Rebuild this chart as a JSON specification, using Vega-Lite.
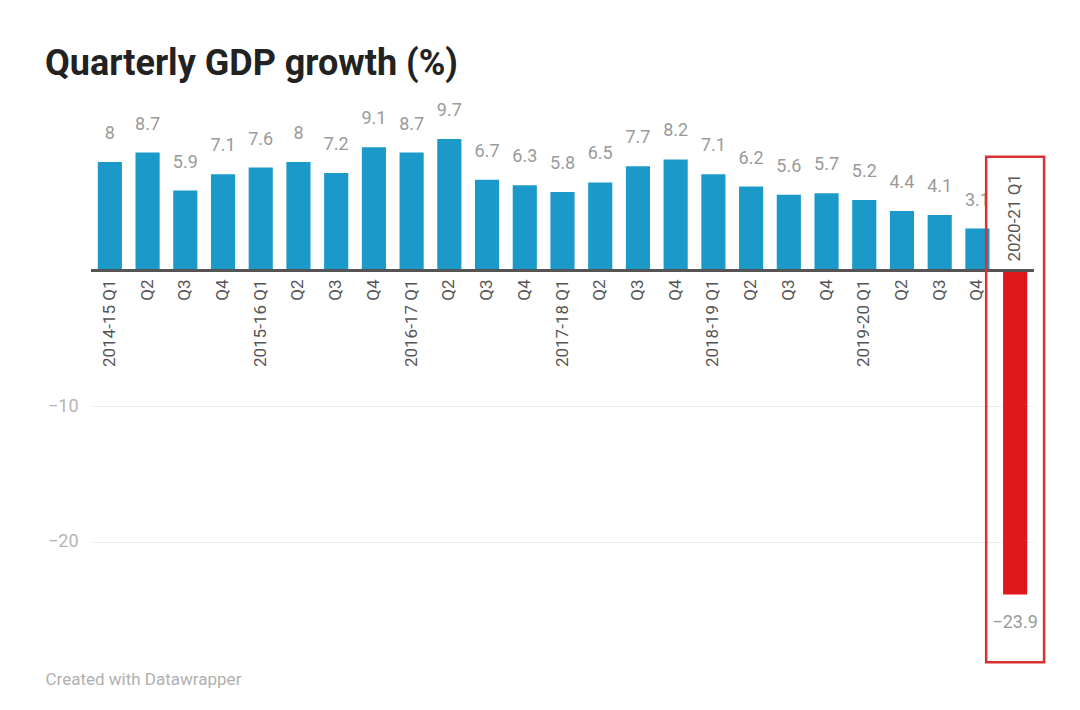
{
  "$schema": "https://vega.github.io/schema/vega-lite/v6.json",
  "width": 943,
  "height": 488,
  "autosize": {"type": "none"},
  "padding": {"left": 91, "top": 135, "right": 46, "bottom": 87},
  "background": "#ffffff",
  "title": {
    "text": "Quarterly GDP growth (%)",
    "anchor": "start",
    "frame": "group",
    "font": "Roboto",
    "fontSize": 36,
    "fontWeight": "bold",
    "color": "#222222",
    "dx": -46,
    "offset": 19
  },
  "config": {"view": {"stroke": null}, "font": "Roboto"},
  "data": {
    "values": [
      {"quarter": "2014-15 Q1", "label": "2014-15 Q1", "value": 8},
      {"quarter": "2014-15 Q2", "label": "Q2", "value": 8.7},
      {"quarter": "2014-15 Q3", "label": "Q3", "value": 5.9},
      {"quarter": "2014-15 Q4", "label": "Q4", "value": 7.1},
      {"quarter": "2015-16 Q1", "label": "2015-16 Q1", "value": 7.6},
      {"quarter": "2015-16 Q2", "label": "Q2", "value": 8},
      {"quarter": "2015-16 Q3", "label": "Q3", "value": 7.2},
      {"quarter": "2015-16 Q4", "label": "Q4", "value": 9.1},
      {"quarter": "2016-17 Q1", "label": "2016-17 Q1", "value": 8.7},
      {"quarter": "2016-17 Q2", "label": "Q2", "value": 9.7},
      {"quarter": "2016-17 Q3", "label": "Q3", "value": 6.7},
      {"quarter": "2016-17 Q4", "label": "Q4", "value": 6.3},
      {"quarter": "2017-18 Q1", "label": "2017-18 Q1", "value": 5.8},
      {"quarter": "2017-18 Q2", "label": "Q2", "value": 6.5},
      {"quarter": "2017-18 Q3", "label": "Q3", "value": 7.7},
      {"quarter": "2017-18 Q4", "label": "Q4", "value": 8.2},
      {"quarter": "2018-19 Q1", "label": "2018-19 Q1", "value": 7.1},
      {"quarter": "2018-19 Q2", "label": "Q2", "value": 6.2},
      {"quarter": "2018-19 Q3", "label": "Q3", "value": 5.6},
      {"quarter": "2018-19 Q4", "label": "Q4", "value": 5.7},
      {"quarter": "2019-20 Q1", "label": "2019-20 Q1", "value": 5.2},
      {"quarter": "2019-20 Q2", "label": "Q2", "value": 4.4},
      {"quarter": "2019-20 Q3", "label": "Q3", "value": 4.1},
      {"quarter": "2019-20 Q4", "label": "Q4", "value": 3.1},
      {"quarter": "2020-21 Q1", "label": "2020-21 Q1", "value": -23.9}
    ]
  },
  "encoding": {
    "x": {
      "field": "quarter",
      "type": "nominal",
      "sort": null,
      "scale": {"paddingInner": 0.36, "paddingOuter": 0.18},
      "axis": {
        "labels": false,
        "ticks": false,
        "domain": false,
        "title": "Created with Datawrapper",
        "titleAnchor": "start",
        "titleAlign": "left",
        "titleX": -46,
        "titleY": 48,
        "titleFont": "Roboto",
        "titleFontSize": 17,
        "titleFontWeight": "normal",
        "titleColor": "#b0b0b0"
      }
    }
  },
  "layer": [
    {
      "mark": {"type": "bar"},
      "encoding": {
        "y": {
          "field": "value",
          "type": "quantitative",
          "scale": {"domain": [-26, 10], "nice": false, "zero": false},
          "axis": {
            "values": [-10, -20],
            "title": null,
            "domain": false,
            "ticks": false,
            "grid": true,
            "gridColor": "#ececec",
            "gridWidth": 1,
            "labelColor": "#b5b5b5",
            "labelFont": "Roboto",
            "labelFontSize": 18,
            "labelPadding": 13
          }
        },
        "color": {
          "condition": {"test": "datum.value < 0", "value": "#df181c"},
          "value": "#1b9ac9"
        }
      }
    },
    {
      "mark": {"type": "rule", "color": "#555555", "strokeWidth": 1.5},
      "encoding": {"y": {"datum": 0}, "x": null}
    },
    {
      "transform": [{"filter": "datum.value >= 0"}],
      "mark": {"type": "text", "baseline": "middle", "dy": -28, "font": "Roboto", "fontSize": 18, "color": "#9a9a9a"},
      "encoding": {"y": {"field": "value", "type": "quantitative"}, "text": {"field": "value", "type": "quantitative"}}
    },
    {
      "transform": [{"filter": "datum.value < 0"}],
      "mark": {"type": "text", "baseline": "middle", "dy": 28, "font": "Roboto", "fontSize": 18, "color": "#9a9a9a"},
      "encoding": {"y": {"field": "value", "type": "quantitative"}, "text": {"field": "value", "type": "quantitative"}}
    },
    {
      "transform": [{"filter": "datum.value >= 0"}],
      "mark": {"type": "text", "angle": -90, "align": "right", "baseline": "middle", "dx": -9, "font": "Roboto", "fontSize": 17, "color": "#555555"},
      "encoding": {"y": {"datum": 0}, "text": {"field": "label"}}
    },
    {
      "transform": [{"filter": "datum.value < 0"}],
      "mark": {"type": "text", "angle": -90, "align": "left", "baseline": "middle", "dx": 9, "font": "Roboto", "fontSize": 17, "color": "#555555"},
      "encoding": {"y": {"datum": 0}, "text": {"field": "label"}}
    },
    {
      "transform": [{"filter": "datum.value < 0"}],
      "mark": {"type": "bar", "fill": "transparent", "stroke": "#d93030", "strokeWidth": 2.5, "width": {"band": 2.4}},
      "encoding": {"y": {"datum": 8.4}, "y2": {"datum": -28.9}}
    }
  ]
}
